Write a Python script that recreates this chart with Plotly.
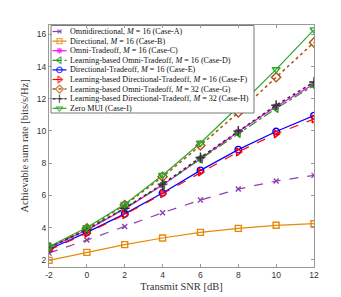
import plotly.graph_objects as go

snr = [-2, 0, 2, 4, 6, 8, 10, 12]

case_a = [2.42, 3.22, 4.07, 4.92, 5.71, 6.39, 6.89, 7.24]
case_b = [1.96, 2.46, 2.94, 3.35, 3.70, 3.95, 4.14, 4.24]
case_c = [2.75, 3.85, 5.15, 6.65, 8.28, 9.95, 11.52, 12.92]
case_d = [2.80, 3.90, 5.20, 6.65, 8.25, 9.85, 11.40, 12.82]
case_e = [2.65, 3.70, 4.85, 6.15, 7.55, 8.84, 9.97, 10.95]
case_f = [2.60, 3.65, 4.80, 6.10, 7.45, 8.70, 9.82, 10.74]
case_g = [2.75, 3.95, 5.40, 7.15, 9.10, 11.15, 13.33, 15.50]
case_h = [2.75, 3.85, 5.20, 6.70, 8.35, 10.00, 11.60, 13.04]
case_i = [2.82, 4.00, 5.45, 7.25, 9.25, 11.50, 13.82, 16.29]

names = [
    "Omnidirectional, <i>M</i> = 16 (Case-A)",
    "Directional, <i>M</i> = 16 (Case-B)",
    "Omni-Tradeoff, <i>M</i> = 16 (Case-C)",
    "Learning-based Omni-Tradeoff, <i>M</i> = 16 (Case-D)",
    "Directional-Tradeoff, <i>M</i> = 16 (Case-E)",
    "Learning-based Directional-Tradeoff, <i>M</i> = 16 (Case-F)",
    "Learning-based Omni-Tradeoff, <i>M</i> = 32 (Case-G)",
    "Learning-based Directional-Tradeoff, <i>M</i> = 32 (Case-H)",
    "Zero MUI (Case-I)",
]
series = [case_a, case_b, case_c, case_d, case_e, case_f, case_g, case_h, case_i]
colors = ["#8E3FAF", "#E8880A", "#FF00FF", "#1E961E", "#0000FF",
          "#FF0000", "#B0520F", "#333333", "#2DA82D"]
dashes = ["dash", "solid", "solid", "dashdot", "solid", "dash", "dot", "dot", "solid"]
symbols = ["x-thin-open", "square-open", "asterisk-open", "triangle-left-open",
           "circle-open", "triangle-right-open", "diamond-open", "cross-thin-open",
           "triangle-down-open"]
sizes = [5, 6, 6, 7, 6.5, 7, 7, 7, 7]
widths = [1.2, 1.2, 1.2, 1.2, 1.2, 1.2, 1.5, 1.5, 1.2]

xticks = [-2, 0, 2, 4, 6, 8, 10, 12]
yticks = [2, 4, 6, 8, 10, 12, 14, 16]

fig = go.Figure()
for s, c, d, sym, sz, w in zip(series, colors, dashes, symbols, sizes, widths):
    fig.add_trace(go.Scatter(
        x=snr, y=s, mode="lines+markers",
        line=dict(color=c, dash=d, width=w),
        marker=dict(symbol=sym, size=sz, color=c, line=dict(color=c, width=1.4)),
        showlegend=False, xaxis="x", yaxis="y",
    ))

# custom legend on an overlay axis (pixel geometry of plot area)
L, R, T, B = 41, 306, 17, 259
W, H = R - L, B - T
fx = lambda px: (px - L) / W
fy = lambda py: 1 - (py - T) / H

bx0, bx1, by0, by1 = fx(43), fx(246), fy(105), fy(17.5)
fig.add_trace(go.Scatter(
    x=[bx0, bx1, bx1, bx0, bx0], y=[by0, by0, by1, by1, by0],
    mode="lines", fill="toself", fillcolor="white",
    line=dict(color="#555555", width=0.8),
    showlegend=False, hoverinfo="skip", xaxis="x2", yaxis="y2",
))
step = 9.6
for i, (n, c, d, sym, sz, w) in enumerate(zip(names, colors, dashes, symbols, sizes, widths)):
    py = 23.5 + i * step
    fig.add_trace(go.Scatter(
        x=[fx(44.5), fx(51.5), fx(58.5)], y=[fy(py)] * 3, mode="lines+markers",
        line=dict(color=c, dash=d, width=w),
        marker=dict(symbol=sym, size=[0, sz - 1, 0], color=c, line=dict(color=c, width=1.3)),
        showlegend=False, hoverinfo="skip", xaxis="x2", yaxis="y2",
    ))
    fig.add_annotation(
        x=fx(60), y=fy(py), xref="x2", yref="y2", text=n, showarrow=False,
        xanchor="left", yanchor="middle",
        font=dict(family="Liberation Serif", size=8.1, color="#111111"),
    )

axis_common = dict(
    showgrid=False, zeroline=False, showline=True, linecolor="#999999", linewidth=1,
    mirror="ticks", ticks="inside", ticklen=3, tickcolor="#999999",
    tickfont=dict(family="Liberation Sans", size=8.5, color="#333333"),
)
fig.update_layout(
    width=341, height=297,
    margin=dict(l=L, r=341 - R, t=T, b=297 - B),
    paper_bgcolor="white", plot_bgcolor="white",
    xaxis=dict(range=[-2, 12], tickvals=xticks, ticktext=[str(v) for v in xticks],
               title=dict(text="Transmit SNR [dB]", standoff=3,
                          font=dict(family="Liberation Serif", size=10.5, color="#333333")),
               **axis_common),
    yaxis=dict(range=[1.55, 16.58], tickvals=yticks, ticktext=[str(v) for v in yticks],
               title=dict(text="Achievable sum rate [bits/s/Hz]", standoff=6,
                          font=dict(family="Liberation Serif", size=10.5, color="#333333")),
               **axis_common),
    xaxis2=dict(overlaying="x", range=[0, 1], visible=False, fixedrange=True),
    yaxis2=dict(overlaying="y", range=[0, 1], visible=False, fixedrange=True),
    showlegend=False,
)

fig.write_html("out.html")
